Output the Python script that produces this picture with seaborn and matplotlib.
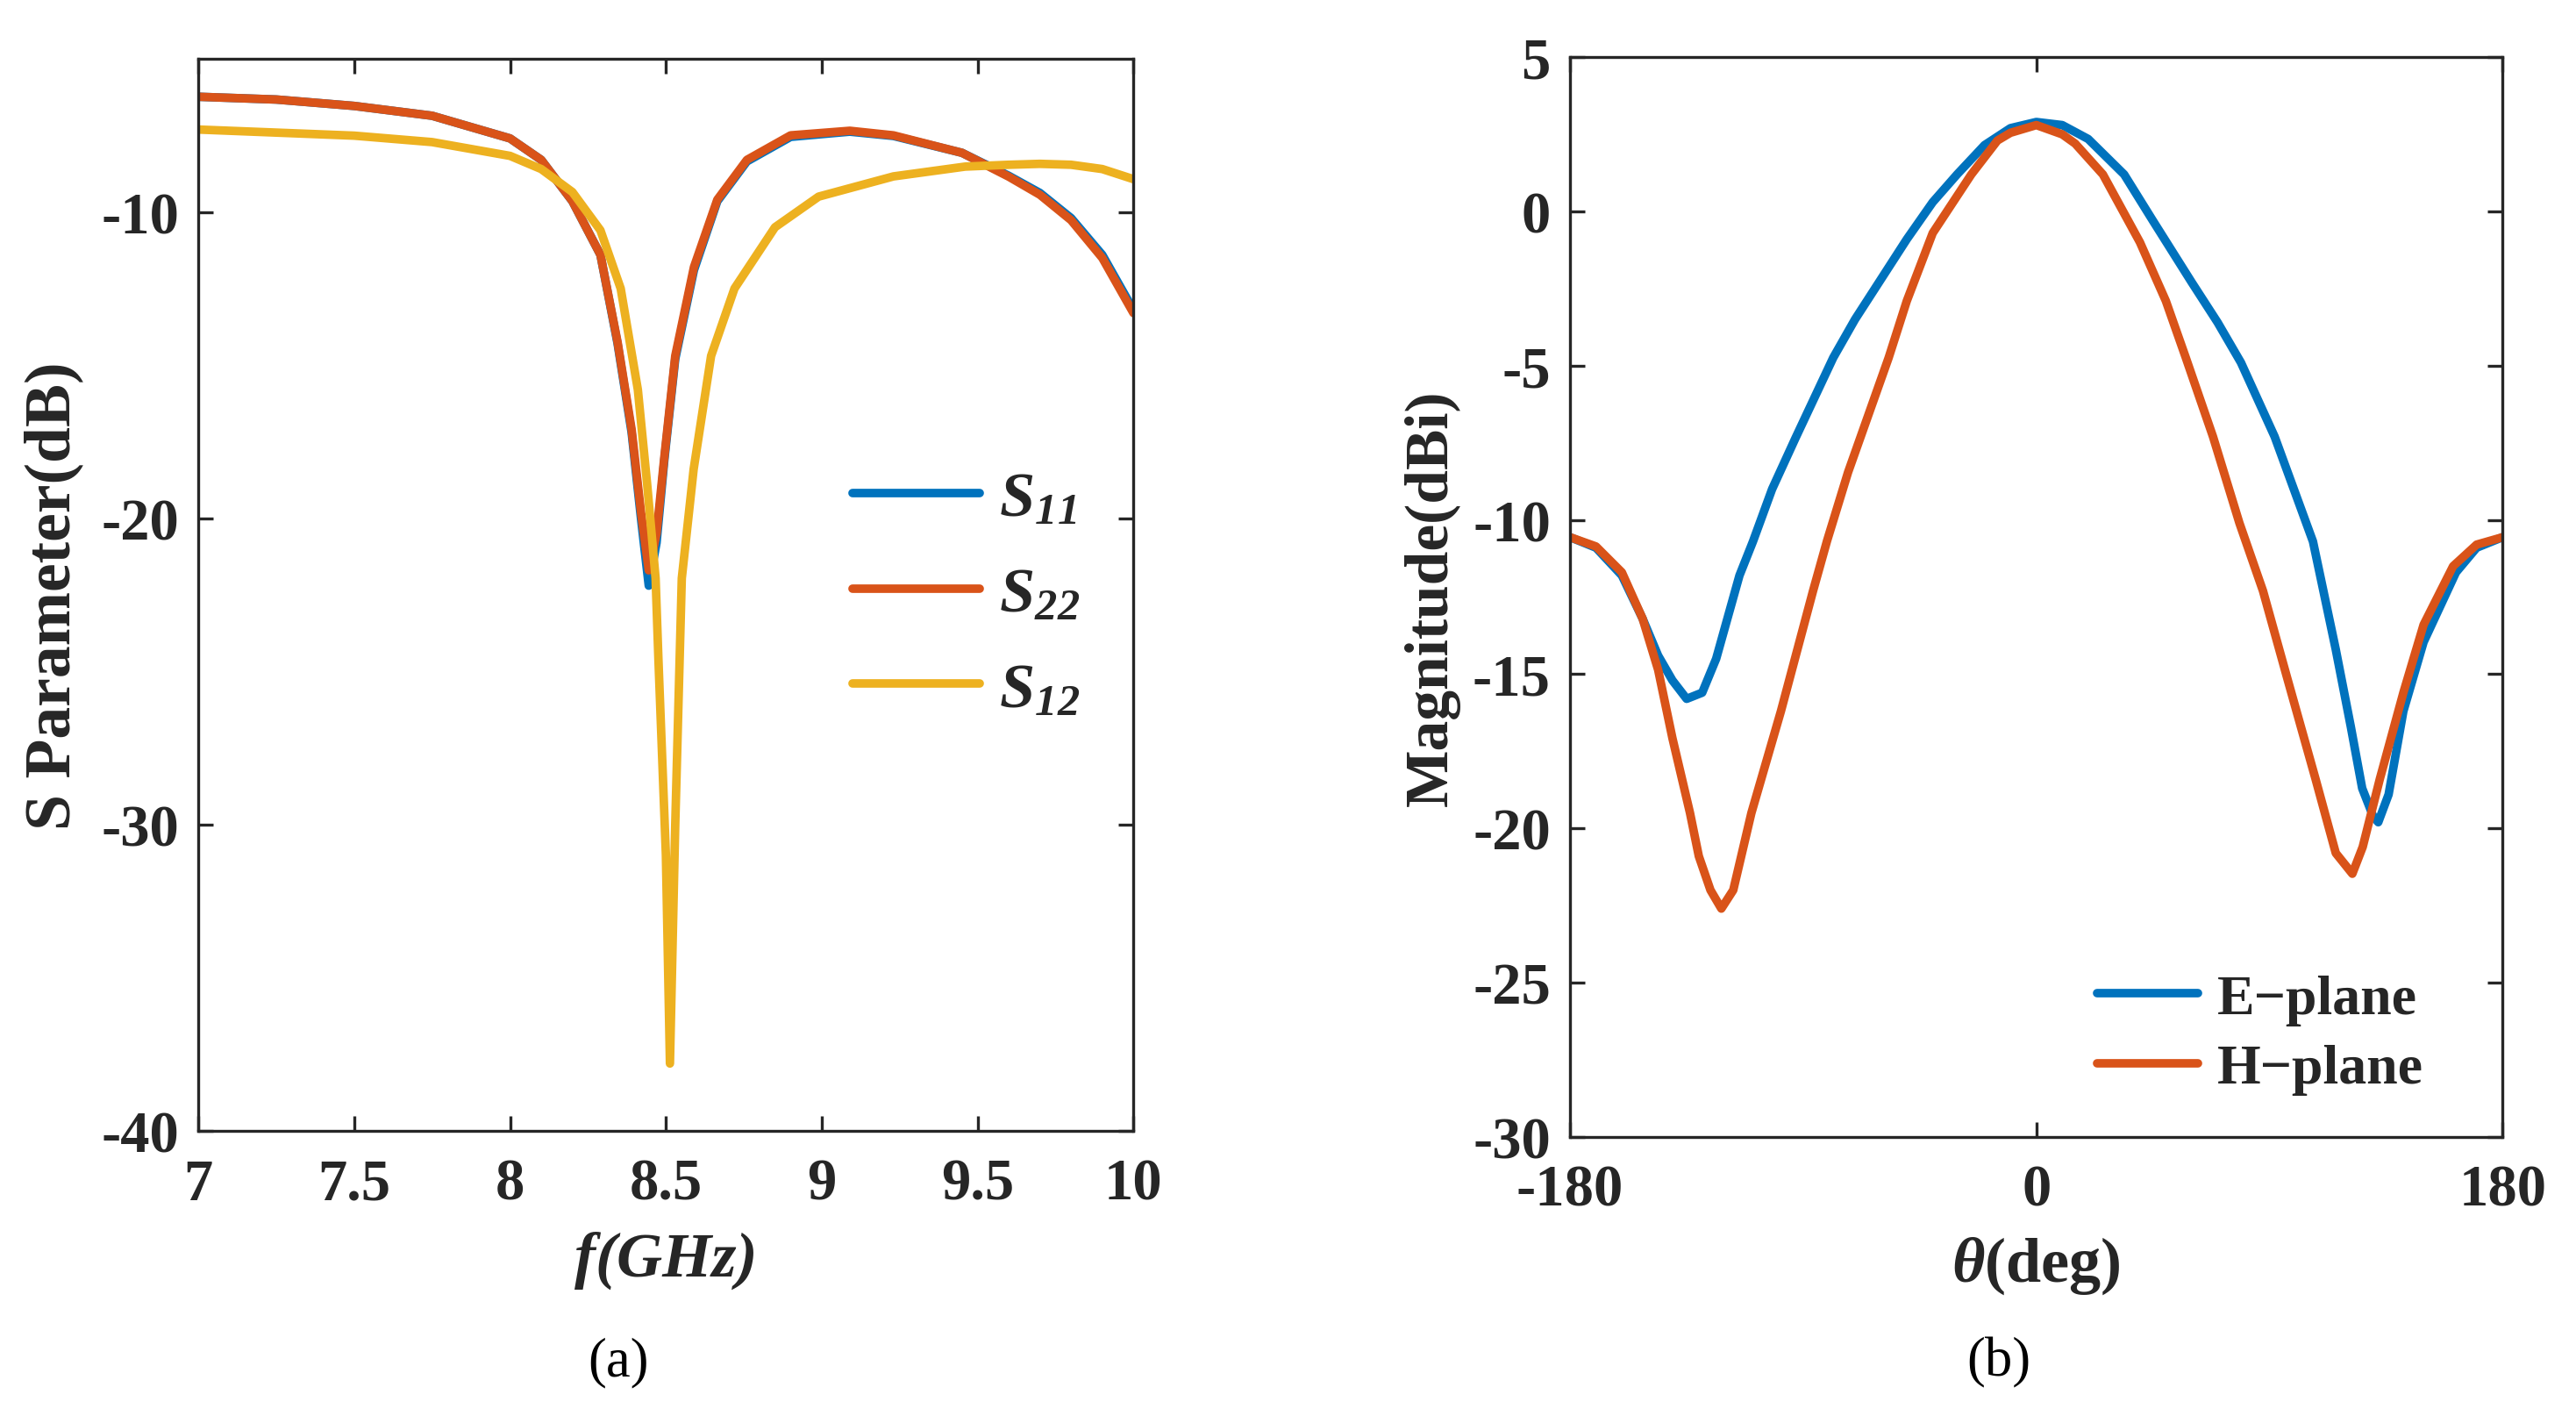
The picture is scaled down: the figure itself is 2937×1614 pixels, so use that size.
import numpy as np
import pandas as pd
import matplotlib.pyplot as plt
import seaborn as sns

# (a) S parameters
freq = [7.0, 7.25, 7.5, 7.75, 8.0, 8.1, 8.2, 8.29, 8.345, 8.39, 8.42, 8.445, 8.47,
        8.495, 8.53, 8.59, 8.665, 8.76, 8.9, 9.09, 9.23, 9.45, 9.6, 9.7, 9.8, 9.9, 10.0]
s11 = [-6.24, -6.33, -6.54, -6.86, -7.6, -8.3, -9.65, -11.4, -14.3, -17.2, -20.0, -22.2,
       -20.8, -18.1, -14.8, -11.9, -9.65, -8.35, -7.55, -7.38, -7.52, -8.07, -8.82, -9.38,
       -10.2, -11.4, -13.2]
s22 = [-6.24, -6.33, -6.54, -6.86, -7.6, -8.3, -9.65, -11.4, -14.25, -17.1, -19.8, -21.7,
       -20.5, -18.0, -14.7, -11.8, -9.6, -8.3, -7.5, -7.35, -7.5, -8.07, -8.85, -9.44,
       -10.27, -11.5, -13.3]
freq_12 = [7.0, 7.5, 7.75, 8.0, 8.1, 8.2, 8.29, 8.355, 8.41, 8.44, 8.467, 8.476, 8.5,
           8.513, 8.53, 8.551, 8.589, 8.645, 8.72, 8.85, 8.99, 9.23, 9.46, 9.6, 9.7, 9.8,
           9.9, 10.0]
s12 = [-7.31, -7.51, -7.72, -8.17, -8.6, -9.35, -10.6, -12.5, -15.8, -18.9, -21.96, -24.6,
       -31.0, -37.8, -30.0, -21.96, -18.4, -14.7, -12.5, -10.5, -9.5, -8.84, -8.52, -8.46,
       -8.43, -8.46, -8.6, -8.93]

# (b) radiation pattern
theta_e = [-180, -170, -160, -152, -146, -140.5, -135, -129, -123.6, -114.6, -109.4, -102,
           -93, -78.4, -70, -60, -50, -40, -30.6, -20, -10, 0, 10, 20, 33.9, 45, 60, 70,
           79, 92, 106.8, 115.6, 121.4, 125.8, 130, 132, 136, 141.7, 149.5, 162, 170, 180]
e_plane = [-10.56, -10.9, -11.8, -13.2, -14.4, -15.2, -15.8, -15.6, -14.5, -11.8, -10.7,
           -9.0, -7.35, -4.74, -3.5, -2.2, -0.9, 0.3, 1.2, 2.15, 2.7, 2.9, 2.8, 2.35, 1.2,
           -0.3, -2.3, -3.6, -4.9, -7.3, -10.7, -14.2, -16.7, -18.7, -19.6, -19.8, -18.9,
           -16.2, -13.96, -11.7, -10.9, -10.56]
theta_h = [-180, -170, -160, -152, -146, -140.5, -133.7, -130.3, -125.8, -121.6, -117, -110,
           -98.6, -86.2, -80.8, -72.7, -57, -50, -40, -25.1, -15, -10, 0, 10, 15, 25.7, 40,
           50, 57.7, 68.2, 78.4, 87.5, 96.6, 107.8, 115.6, 122, 126, 132.6, 141.7, 149.5,
           160.9, 170, 180]
h_plane = [-10.56, -10.86, -11.7, -13.2, -14.86, -17.07, -19.5, -20.9, -22.0, -22.6, -22.0,
           -19.5, -16.2, -12.3, -10.68, -8.46, -4.74, -2.9, -0.7, 1.2, 2.3, 2.55, 2.8, 2.5,
           2.2, 1.2, -1.0, -2.9, -4.74, -7.3, -10.1, -12.3, -15.05, -18.4, -20.8, -21.47,
           -20.6, -18.4, -15.6, -13.4, -11.5, -10.8, -10.56]

blue, orange, yellow = '#0072BD', '#D95319', '#EDB120'
ink = '#262626'

sns.set_theme(style='ticks')
plt.rcParams['font.family'] = ['Liberation Serif', 'DejaVu Serif']
plt.rcParams['font.weight'] = 'bold'
plt.rcParams['axes.unicode_minus'] = False
plt.rcParams['mathtext.fontset'] = 'custom'
plt.rcParams['mathtext.rm'] = 'Liberation Serif:bold'
plt.rcParams['mathtext.it'] = 'Liberation Serif:italic'
plt.rcParams['mathtext.bf'] = 'Liberation Serif:bold'
plt.rcParams['mathtext.bfit'] = 'Liberation Serif:bold:italic'

fig = plt.figure(figsize=(29.37, 16.15), dpi=100)
ax1 = fig.add_axes([0.077, 0.2012, 0.363, 0.7567])
ax2 = fig.add_axes([0.6095, 0.197, 0.362, 0.762])

lw = 7
sns.lineplot(x=freq, y=s11, ax=ax1, color=blue, lw=lw, label=r'$\mathbfit{S}_{\mathbfit{11}}$')
sns.lineplot(x=freq, y=s22, ax=ax1, color=orange, lw=lw, label=r'$\mathbfit{S}_{\mathbfit{22}}$')
sns.lineplot(x=freq_12, y=s12, ax=ax1, color=yellow, lw=lw, label=r'$\mathbfit{S}_{\mathbfit{12}}$')
ax1.set_xlim(7, 10)
ax1.set_ylim(-40, -5)
ax1.set_xticks([7, 7.5, 8, 8.5, 9, 9.5, 10])
ax1.set_xticklabels(['7', '7.5', '8', '8.5', '9', '9.5', '10'])
ax1.set_yticks([-40, -30, -20, -10])
ax1.set_yticklabels(['-40', '-30', '-20', '-10'])
ax1.set_xlabel('f(GHz)', fontsize=52, style='italic', weight='bold', color=ink, labelpad=16)
ax1.set_ylabel('S Parameter(dB)', fontsize=53, weight='bold', color=ink, labelpad=14)
ax1.legend(loc='center left', bbox_to_anchor=(0.70, 0.50), frameon=False, fontsize=52,
           handlelength=2.0, labelspacing=0.6, handletextpad=0.3, borderpad=0,
           borderaxespad=0)

sns.lineplot(x=theta_e, y=e_plane, ax=ax2, color=blue, lw=lw, label='E\u2212plane')
sns.lineplot(x=theta_h, y=h_plane, ax=ax2, color=orange, lw=lw, label='H\u2212plane')
ax2.set_xlim(-180, 180)
ax2.set_ylim(-30, 5)
ax2.set_xticks([-180, 0, 180])
ax2.set_xticklabels(['-180', '0', '180'])
ax2.set_yticks([-30, -25, -20, -15, -10, -5, 0, 5])
ax2.set_yticklabels(['-30', '-25', '-20', '-15', '-10', '-5', '0', '5'])
ax2.set_xlabel(r'$\theta$(deg)', fontsize=52, weight='bold', color=ink, labelpad=14)
ax2.set_ylabel('Magnitude(dBi)', fontsize=50, weight='bold', color=ink, labelpad=10)
ax2.legend(loc='center left', bbox_to_anchor=(0.565, 0.095), frameon=False, fontsize=46,
           handlelength=1.8, labelspacing=0.32, handletextpad=0.35, borderpad=0,
           borderaxespad=0)

for ax in (ax1, ax2):
    ax.tick_params(direction='in', length=12, width=2.4, top=True, right=True,
                   labelsize=48, colors=ink)
    ax.tick_params(axis='x', pad=22)
    ax.tick_params(axis='y', pad=16)
    for lab in ax.get_xticklabels() + ax.get_yticklabels():
        lab.set_fontweight('bold')
    for sp in ax.spines.values():
        sp.set_visible(True)
        sp.set_linewidth(2.4)
        sp.set_color(ink)

fig.text(0.240, 0.038, '(a)', ha='center', va='center', fontsize=45, weight='normal', color='black')
fig.text(0.776, 0.038, '(b)', ha='center', va='center', fontsize=45, weight='normal', color='black')

fig.savefig('out.png', dpi=100)
